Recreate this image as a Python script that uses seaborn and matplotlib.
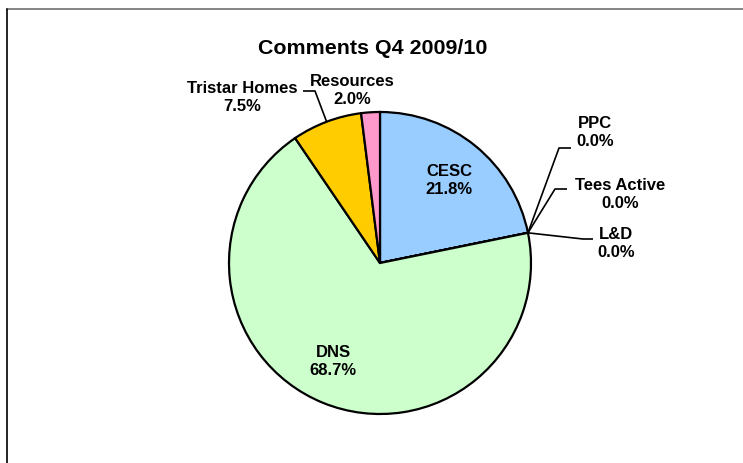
import seaborn as sns
import matplotlib.pyplot as plt
import numpy as np
from matplotlib.lines import Line2D

# Dados do gráfico (sentido horário a partir do topo)
categorias = ['CESC', 'PPC', 'Tees Active', 'L&D', 'DNS', 'Tristar Homes', 'Resources']
percentuais = [21.8, 0.0, 0.0, 0.0, 68.7, 7.5, 2.0]
cores = ['#99CCFF', '#FFFFFF', '#FFFFFF', '#FFFFFF', '#CCFFCC', '#FFCC00', '#FF99CC']
titulo = 'Comments Q4 2009/10'

# Layout em pixels (centro da pizza e raio)
CX, CY, R = 380, 264, 151
W, H = 743, 464

# posição dos rótulos (px) e cotovelo das linhas de chamada (px ou None)
pos_rotulos = [(449, 181), (595, 133), (620, 195), (616, 244), (333, 362), (242, 98), (352, 91)]
cotovelos = [None, [(559, 149), (571, 149)], [(555, 190), (567, 190)], [(583, 240), (593, 240)],
             None, [(315, 92), (303, 92)], None]

sns.set_theme(style='white')
plt.rcParams['font.family'] = ['Liberation Sans', 'DejaVu Sans']


def px(x, y):
    return (x - CX) / R, (CY - y) / R


fig = plt.figure(figsize=(W / 100, H / 100), dpi=100)
ax = fig.add_axes([0, 0, 1, 1])
wedges, _ = ax.pie(percentuais, colors=cores, startangle=90, counterclock=False,
                   wedgeprops=dict(edgecolor='black', linewidth=1.6))
ax.set_aspect('auto')
ax.set_xlim(-CX / R, (W - CX) / R)
ax.set_ylim(-(H - CY) / R, CY / R)
ax.axis('off')

for w, nome, val, pos, cot in zip(wedges, categorias, percentuais, pos_rotulos, cotovelos):
    tx, ty = px(*pos)
    ax.text(tx, ty, f'{nome}\n{val:.1f}%', ha='center', va='center', fontsize=12,
            fontweight='bold', linespacing=1.25, color='black')
    if cot is not None:
        ang = np.deg2rad((w.theta1 + w.theta2) / 2)
        xs = [np.cos(ang)] + [px(*p)[0] for p in cot]
        ys = [np.sin(ang)] + [px(*p)[1] for p in cot]
        ax.plot(xs, ys, color='black', linewidth=1.2, solid_capstyle='butt')

fig.text(372.5 / W, 1 - 54 / H, titulo, ha='center', va='baseline', fontsize=15.4,
         fontweight='bold', color='black')

# moldura parcial do gráfico
fig.add_artist(Line2D([7.5 / W, 1], [1 - 9.5 / H, 1 - 9.5 / H], color='#707070', linewidth=1.2))
fig.add_artist(Line2D([7.5 / W, 7.5 / W], [0, 1 - 9.5 / H], color='black', linewidth=1.2))

fig.savefig('out.png', dpi=100, facecolor='white')
